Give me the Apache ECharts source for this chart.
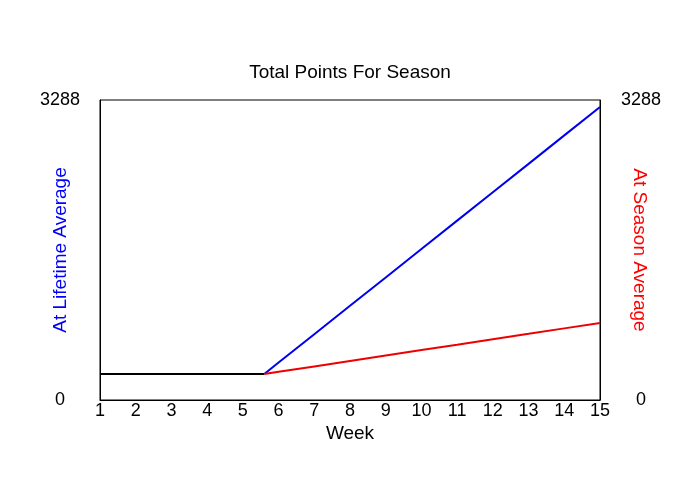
<!DOCTYPE html>
<html>
<head>
<meta charset="utf-8">
<script src="https://cdn.jsdelivr.net/npm/echarts@6/dist/echarts.min.js"></script>
<style>
  html, body { margin: 0; padding: 0; background: #fff; }
  #main { width: 700px; height: 500px; }
</style>
</head>
<body>
<div id="main"></div>
<script>
// weeks and points
var flatPart = [[1, 285], [5.6, 285]];
var lifetimeWeeks = [5.6, 6, 7, 8, 9, 10, 11, 12, 13, 14, 15];
var lifetimeVals  = [285, 410, 721, 1032, 1343, 1655, 1966, 2277, 2588, 2900, 3211];
var seasonWeeks = [5.6, 6, 7, 8, 9, 10, 11, 12, 13, 14, 15];
var seasonVals  = [285, 309, 368, 428, 487, 547, 606, 666, 725, 785, 844];
var yMax = 3288;

function pairs(xs, ys) {
    var out = [];
    for (var i = 0; i < xs.length; i++) out.push([xs[i], ys[i]]);
    return out;
}

var font = 'Liberation Sans, Arial, sans-serif';
var chart = echarts.init(document.getElementById('main'));
var option = {
    backgroundColor: '#fff',
    animation: false,
    title: {
        text: 'Total Points For Season',
        left: 'center',
        top: 58,
        textStyle: { fontFamily: font, fontSize: 19, fontWeight: 'normal', color: '#000' }
    },
    grid: {
        left: 100, right: 100, top: 100, bottom: 100,
        show: true, borderColor: '#000', borderWidth: 1
    },
    xAxis: {
        type: 'value',
        min: 1, max: 15, interval: 1,
        name: 'Week',
        nameLocation: 'middle',
        nameGap: 24,
        nameMoveOverlap: false,
        nameTextStyle: { fontFamily: font, fontSize: 19, color: '#000' },
        axisLine: { show: true, lineStyle: { color: '#000' } },
        axisTick: { show: false },
        splitLine: { show: false },
        axisLabel: { fontFamily: font, fontSize: 18, color: '#000', margin: 2 }
    },
    yAxis: [
        {
            type: 'value', min: 0, max: yMax, interval: yMax,
            position: 'left',
            name: 'At Lifetime Average',
            nameLocation: 'middle', nameRotate: 90, nameGap: 30,
            nameMoveOverlap: false,
            nameTextStyle: { fontFamily: font, fontSize: 19, color: '#0000ff' },
            axisLine: { show: true, lineStyle: { color: '#000' } },
            axisTick: { show: false },
            splitLine: { show: false },
            axisLabel: {
                fontFamily: font, fontSize: 18, color: '#000', margin: 40, align: 'center',
                formatter: function (v) { return String(v); }
            }
        },
        {
            type: 'value', min: 0, max: yMax, interval: yMax,
            position: 'right',
            name: 'At Season Average',
            nameLocation: 'middle', nameRotate: -90, nameGap: 30,
            nameMoveOverlap: false,
            nameTextStyle: { fontFamily: font, fontSize: 19, color: '#ff0000' },
            axisLine: { show: true, lineStyle: { color: '#000' } },
            axisTick: { show: false },
            splitLine: { show: false },
            axisLabel: {
                fontFamily: font, fontSize: 18, color: '#000', margin: 41, align: 'center',
                formatter: function (v) { return String(v); }
            }
        }
    ],
    series: [
        {
            name: 'So far',
            type: 'line',
            data: flatPart,
            showSymbol: false,
            lineStyle: { color: '#000', width: 2 }
        },
        {
            name: 'At Lifetime Average',
            type: 'line',
            data: pairs(lifetimeWeeks, lifetimeVals),
            showSymbol: false,
            lineStyle: { color: '#0000ee', width: 2 }
        },
        {
            name: 'At Season Average',
            type: 'line',
            data: pairs(seasonWeeks, seasonVals),
            showSymbol: false,
            lineStyle: { color: '#ee0000', width: 2 }
        }
    ]
};
chart.setOption(option);
</script>
</body>
</html>
